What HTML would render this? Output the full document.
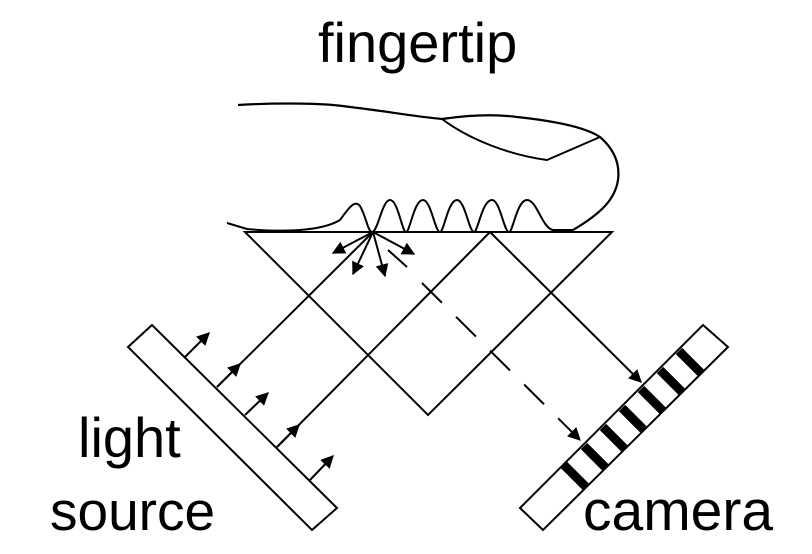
<!DOCTYPE html>
<html><head><meta charset="utf-8"><style>
html,body{margin:0;padding:0;background:#fff;}
svg{display:block;}
text{font-family:"Liberation Sans",Arial,sans-serif;fill:#000;}
</style></head><body>
<svg width="812" height="554" viewBox="0 0 812 554">
<defs>
<marker id="ah" viewBox="0 0 10 10" refX="9" refY="5" markerWidth="6.5" markerHeight="6.5" orient="auto"><path d="M0,0 L10,5 L0,10 z" fill="#000"/></marker>
</defs>
<g fill="none" stroke="#000" stroke-width="2">
<path d="M238,105 C270,103 310,103 333,105 C380,110 410,116 442,119 C470,115 495,114 517,117 C555,121 585,127 600,137 C615,150 620,165 618,180 C615,200 600,214 573,230" stroke-width="2.2"/>
<path d="M442,119 C470,140 510,155 547,160 L600,137"/>
<path d="M227,223 L247,229 C280,232 320,232 340,220 C350,206 355,200 360,206 C366,216 368,232 372,232 C378,232 382,200 390,200 C398,200 402,232 406,232 C410,232 414,200 423,200 C431,200 435,232 440,232 C444,232 448,200 457,200 C465,200 469,232 474,232 C478,232 482,200 492,200 C500,200 504,232 509,232 C513,232 517,200 527,200 C537,200 542,228 553,230 L573,230"/>
<path d="M245,232 L612,232 L428,415 Z"/>
<line x1="217" y1="387" x2="373" y2="232"/>
<line x1="277" y1="447" x2="490" y2="232"/>
<line x1="490" y1="232" x2="641" y2="382" marker-end="url(#ah)"/>
<line x1="422" y1="283" x2="580" y2="440" stroke-dasharray="28,20" marker-end="url(#ah)"/>
<line x1="373" y1="232" x2="333" y2="253" marker-end="url(#ah)"/>
<line x1="373" y1="232" x2="353" y2="274" marker-end="url(#ah)"/>
<line x1="373" y1="232" x2="385" y2="276" marker-end="url(#ah)"/>
<line x1="373" y1="232" x2="414" y2="254" marker-end="url(#ah)"/>
<line x1="388" y1="250" x2="407" y2="267"/>
<polygon points="128,347 152,325 337,508 312,530"/>
<line x1="185" y1="357" x2="209" y2="333" marker-end="url(#ah)"/>
<line x1="217" y1="387" x2="240" y2="364" marker-end="url(#ah)"/>
<line x1="245" y1="415" x2="268" y2="393" marker-end="url(#ah)"/>
<line x1="277" y1="447" x2="299" y2="425" marker-end="url(#ah)"/>
<line x1="310" y1="480" x2="333" y2="456" marker-end="url(#ah)"/>
<polygon points="520,508 543,530 728,347 703,325"/>
</g>
<g stroke="#000" stroke-width="9">
<line x1="564" y1="465" x2="586" y2="487"/>
<line x1="584" y1="446" x2="606" y2="468"/>
<line x1="603" y1="427" x2="625" y2="449"/>
<line x1="622" y1="408" x2="644" y2="430"/>
<line x1="641" y1="389" x2="663" y2="411"/>
<line x1="660" y1="370" x2="682" y2="392"/>
<line x1="679" y1="351" x2="701" y2="373"/>
</g>
<text x="318" y="62" font-size="56">fingertip</text>
<text x="78" y="457" font-size="56">light</text>
<text x="50" y="530" font-size="55">source</text>
<text x="583" y="530" font-size="57">camera</text>
</svg>
</body></html>
